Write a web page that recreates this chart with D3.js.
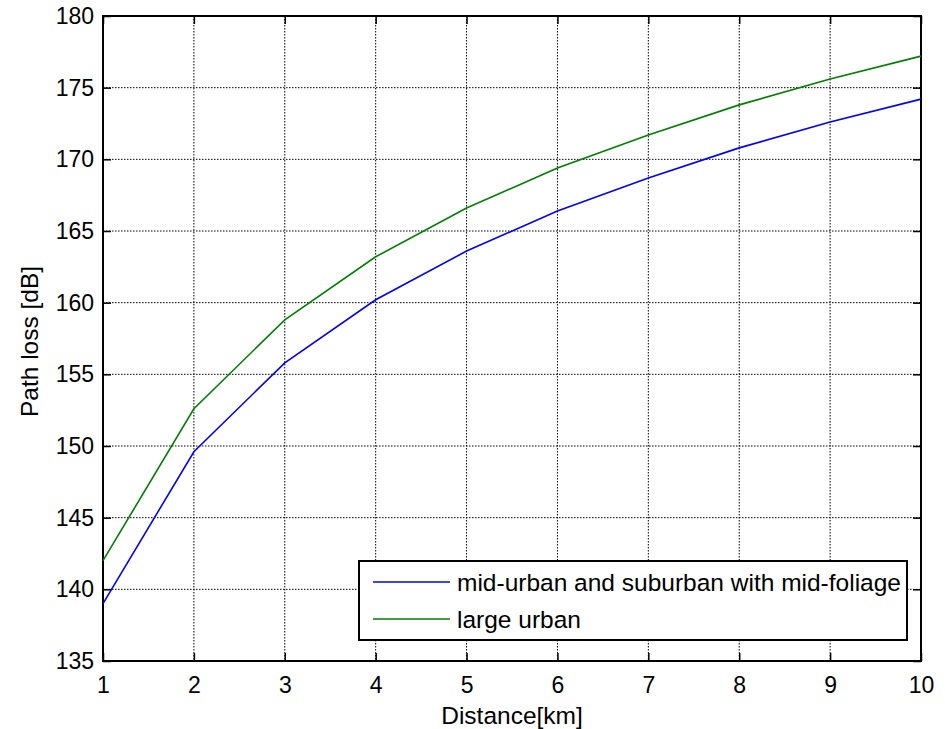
<!DOCTYPE html>
<html>
<head>
<meta charset="utf-8">
<script src="https://cdn.jsdelivr.net/npm/d3@7"></script>
<style>
  body { margin: 0; background: #fff; }
  svg { display: block; font-family: "Liberation Sans", Arial, sans-serif; }
</style>
</head>
<body>
<div id="chart"></div>
<script>
// distance in km
const distances = [1, 2, 3, 4, 5, 6, 7, 8, 9, 10];
// path loss [dB]
const midUrban = [139.0, 149.6, 155.8, 160.2, 163.6, 166.4, 168.7, 170.8, 172.6, 174.2];
const largeUrban = [142.0, 152.6, 158.8, 163.2, 166.6, 169.4, 171.7, 173.8, 175.6, 177.2];
const xTicks = [1, 2, 3, 4, 5, 6, 7, 8, 9, 10];
const yTicks = [135, 140, 145, 150, 155, 160, 165, 170, 175, 180];
const seriesNames = ["mid-urban and suburban with mid-foliage", "large urban"];
const seriesColors = ["#0000ff", "#008000"];

const width = 945, height = 729;
const margin = { top: 16, right: 24, bottom: 68, left: 103 };
const innerW = width - margin.left - margin.right;
const innerH = height - margin.top - margin.bottom;

const svg = d3.select("#chart").append("svg")
    .attr("width", width)
    .attr("height", height);

const g = svg.append("g")
    .attr("transform", `translate(${margin.left},${margin.top})`);

const x = d3.scaleLinear().domain([1, 10]).range([0, innerW]);
const y = d3.scaleLinear().domain([135, 180]).range([innerH, 0]);

// grid (dotted)
g.append("g").selectAll("line.vgrid")
    .data(xTicks.slice(1, -1))
    .join("line")
    .attr("class", "vgrid")
    .attr("x1", d => x(d)).attr("x2", d => x(d))
    .attr("y1", 0).attr("y2", innerH)
    .attr("stroke", "#000").attr("stroke-width", 1)
    .attr("stroke-dasharray", "1.5,1.5");

g.append("g").selectAll("line.hgrid")
    .data(yTicks.slice(1, -1))
    .join("line")
    .attr("class", "hgrid")
    .attr("y1", d => y(d)).attr("y2", d => y(d))
    .attr("x1", 0).attr("x2", innerW)
    .attr("stroke", "#000").attr("stroke-width", 1)
    .attr("stroke-dasharray", "1.5,1.5");

// axes, ticks inside like matlab
const tickLen = 8;
const xAxis = d3.axisBottom(x).tickValues(xTicks).tickFormat(d3.format("d"))
    .tickSizeInner(-tickLen).tickSizeOuter(0).tickPadding(16);
const yAxis = d3.axisLeft(y).tickValues(yTicks).tickFormat(d3.format("d"))
    .tickSizeInner(-tickLen).tickSizeOuter(0).tickPadding(9);

g.append("g")
    .attr("transform", `translate(0,${innerH})`)
    .call(xAxis);
g.append("g").call(yAxis);

// top and right ticks
g.append("g").call(d3.axisTop(x).tickValues(xTicks).tickSizeInner(-tickLen).tickSizeOuter(0).tickFormat(""));
g.append("g").attr("transform", `translate(${innerW},0)`)
    .call(d3.axisRight(y).tickValues(yTicks).tickSizeInner(-tickLen).tickSizeOuter(0).tickFormat(""));

g.selectAll(".domain").remove();
g.selectAll(".tick line").attr("stroke", "#000").attr("stroke-width", 1.5);
g.selectAll(".tick text")
    .attr("fill", "#000")
    .style("font-size", "23px")
    .style("font-family", "'Liberation Sans', Arial, sans-serif");

// box
g.append("rect")
    .attr("x", 0).attr("y", 0)
    .attr("width", innerW).attr("height", innerH)
    .attr("fill", "none")
    .attr("stroke", "#000").attr("stroke-width", 2);

// lines
const line = d3.line()
    .x((d, i) => x(distances[i]))
    .y(d => y(d));

[midUrban, largeUrban].forEach((vals, k) => {
    g.append("path")
        .datum(vals)
        .attr("d", line)
        .attr("fill", "none")
        .attr("stroke", seriesColors[k])
        .attr("stroke-width", 1.6);
});

// axis labels
svg.append("text")
    .attr("x", margin.left + innerW / 2)
    .attr("y", 724)
    .attr("text-anchor", "middle")
    .style("font-size", "24.5px")
    .text("Distance[km]");

svg.append("text")
    .attr("transform", `translate(38,${margin.top + innerH / 2 + 3}) rotate(-90)`)
    .attr("text-anchor", "middle")
    .style("font-size", "24.5px")
    .text("Path loss [dB]");

// legend
const legend = svg.append("g").attr("transform", "translate(359,561)");
legend.append("rect")
    .attr("width", 548).attr("height", 79)
    .attr("fill", "#fff")
    .attr("stroke", "#000").attr("stroke-width", 2);

seriesNames.forEach((name, k) => {
    const ly = 21 + k * 37;
    legend.append("line")
        .attr("x1", 14).attr("x2", 91)
        .attr("y1", ly).attr("y2", ly)
        .attr("stroke", seriesColors[k]).attr("stroke-width", 1.6);
    legend.append("text")
        .attr("x", 98).attr("y", ly)
        .attr("dy", "0.35em")
        .style("font-size", "24.5px")
        .text(name);
});
</script>
</body>
</html>
